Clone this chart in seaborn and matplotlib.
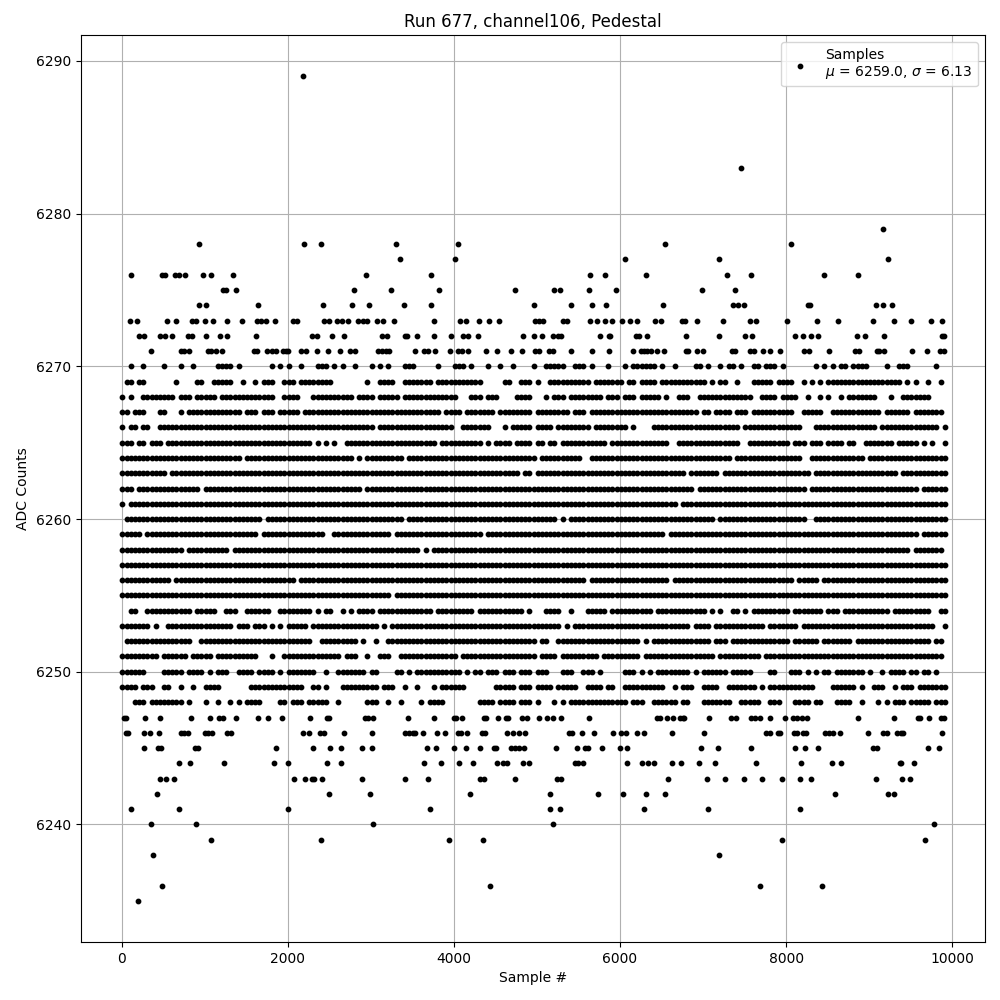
import matplotlib
matplotlib.use("Agg")
import matplotlib.pyplot as plt
import pandas as pd
import seaborn as sns

# Occupancy: each character is one 50-sample cell, '#' = a sample drawn
row_6270 = "..#..#.... #...#..#.. ...####.#. ......#.#. #..#...### .#.#..#... #.#.#...## #.....#... ###.#...#. .#..#....# ..#####..# ##.#...#.. .#.######. #..#....## .#..#.##.# ..##.###.# .......#.# .#.##.#### ....#..### ......#.."
row_6269 = ".##.##.... ...#....## ..#####..# ..#.###..# ##.####### #........# ..####..## #####.#### #######... ..##..###. #..####### ###.###### #.##.####. ########## #.#.##..#. ..#####.## ##..#.#.#. ########## ########.# .#..#..#."
row_6268 = "#.#..##### ###.###.## ###.###### #######..# ###...#### ######.### #.#####.## ########## #...###.## #....####. ..#.###.## ######.### .###.##### .#..###..# ########## ##..####.# ###..#..#. #..#.##### ##...#..## #####...."
row_6267 = "##.###...# #...#.#### #########. ###.###.## ###.###### ########## ########## #######.## ##.####### .########. ########.# ##.####### ########## #########. ##.####.## #.######## ##..#####. .######### ###.###### .#######."
row_6266 = "#.##.##..# ########## ########## ########## ########## ########## #.######## ########## ..#######. ..#.#####. ####.##### ###.###### ##.#....## ########## #########. ########## ####...### ########## ##.####### #######.#"
row_6265 = "###.##.### .######### ########## ########## ######.#.# .#..###### ########## ######.### #######.#. ####.####. ##.##.#### #######.## ########## ##..###### #########. .######### #.###.###. ####.##..# ######.### ##.#.#..#"
row_6264 = "########## ########## #########. ########## ########## ######.#.# ########.# ########## ########## ########## .######### #..####### ########## ########## #######.## ########## ####..#### #########. ########## #########"
row_6263 = "########## #.######## ########## ########## ########## ########## ########## ########## ########## ######.##. ########## ########## ########## ######.### ####.##### ########## ######.### ########## #######.## #########"
row_6262 = "###.###### #########. ########## ########## ########## ########.# ########## ########## ########## ########## ########## ########## ########## ########.# ########## ########## #####.#### ########## ########## ##.######"
row_6261 = "#.######## ########## ########## ########## ########## ########## ########## ########## ########## ########## ########## ########## ########## ####.##### ########## ########## ########## ########## ########## #########"
row_6260 = ".######### ########## ########## ####.##### ########## ########## ########.# ########## ########## ########## #####.#.## ########## ########## ########## ###.###### ########## #####..### ########## ########## #########"
row_6259 = "#####.#### ########## ########## ###.###### #########. .######### #####.#### ########## #######.## ########## ########## ########## ########## #.######## ########## ########## ########## ########## ########## ##.######"
row_6258 = "########## #####.#### ######.### ########## ########## ########## ########## ##.#.##### ########## ########## ########## ########## ########## ########## ########## ########## ########## ########## ########## .#######."
row_6257 = "########## ########## ########## ########## ########## ########## ########## ########## ########## ########## ########## ########## ########## ########## ########## ########## ########## ########## ########## #########"
row_6256 = "########## ##.####### ########## ########## ##.####### ########## ########## ########## ########## ########## ########## ##.####### ########## ##.####### ########## ########## ##.#####.# ########## ########## #########"
row_6255 = "########## ########## ########## ########## ########## ########## #####.#### ########## ########## ########## ########## ########## ########## ########## ########## ########## ########## ########## ########## #########"
row_6254 = "..##..#### #######.## ###..###.. ######..## ######.#.# #..#.#.### #.######## #####.#### #####.#### #######.#. ..####..#. ..#####.## ########.# ########## #.#.#..##. #.######## #.#######. ###.###### #####.#### #####..##"
row_6253 = "#######.#. .######### #######.## #.###.#.#. #####.#### ########## ##.#.##### ########## ########## ########## ######.#.# ########## ########## #######.## ##.####### #####.#### ###.###### ########## ########## ######..#"
row_6252 = ".######### #######..# ########## ########## ######..## #######.#. .#..###### ########## ########## ########## .##..##### ########## #####.#.## ########## ##.###.### ########## #.######.# ######.### ########## #####.##."
row_6251 = "#########. ######.### ##.####### ###...#..# ########## ###.###..# ..###..### ########## #.######## ########## .####.#### #####.#### #####.#### ########## ###.###### ####.##### ########## ########## ########## ########."
row_6250 = "######.... #####.#### .#.###..## ##.####.#. #######..# ..#######. ##....##.# .######### ##.#.##.## #.###.###. ###...###. .###.#.... .###.#.#.# #######.#. ######.### ##....##.. .###.#.#.# #.#######. #..#.####. ##.##.#.."
row_6249 = "####.###.. ##..#..#.. ####...... .######### ####..##.# ...####### ##.###..#. .#...#.### ###....... #####.###. ####.##### ..####.##. .######### #..#.###.. ####..#### ###.#.#### #######... .######.#. .###..#.## #.#######"
row_6248 = "...###.### #####.#... #..#..#.#. ####....## .###.##### ..#......# ##..#..#.. ..#.####.. ......#### .####.###. #...#.#.## ########## ##.###..## ####.##... #######..# ####..###. ..####.##. ..####..#. ..#.#.###. #####.###"

# Sample numbers for the sparse levels
samples_6289 = [2181]
samples_6283 = [7459]
samples_6279 = [9163]
samples_6278 = [932, 2197, 2402, 3306, 4053, 6548, 8054]
samples_6277 = [3354, 4017, 6066, 7187, 9223]
samples_6276 = [112, 490, 522, 643, 691, 763, 980, 1077, 1342, 2945, 3728, 5644, 5825, 6319, 7283, 7572, 8452, 8862]
samples_6275 = [1221, 1257, 1378, 2800, 3246, 3824, 4740, 5210, 5283, 5632, 5957, 6982, 7391]
samples_6274 = [932, 1020, 1643, 2426, 2776, 2981, 3402, 3728, 4969, 5415, 5668, 5837, 6524, 7355, 7420, 7488, 8259, 8287, 9079, 9163, 9271]
samples_6273 = [100, 185, 546, 655, 848, 896, 1004, 1101, 1269, 1450, 1631, 1679, 1739, 1848, 2065, 2113, 2438, 2499, 2595, 2655, 2728, 2848, 2908, 2957, 3077, 3149, 3282, 3764, 4077, 4150, 4306, 4427, 4547, 4981, 5029, 5078, 5319, 5367, 5644, 5728, 5825, 5909, 6030, 6122, 6210, 6427, 6500, 6741, 6789, 6933, 7235, 7560, 7632, 8006, 8368, 8621, 9042, 9296, 9500, 9741, 9874]
samples_6272 = [209, 269, 462, 522, 607, 799, 848, 1016, 1185, 1269, 1619, 2294, 2354, 2535, 2679, 3137, 3197, 3414, 3438, 3559, 3764, 3969, 4113, 4174, 4294, 4836, 4969, 5066, 5198, 5258, 5295, 5765, 5873, 5885, 6198, 6235, 6331, 6801, 7187, 7500, 7584, 8102, 8199, 8295, 8380, 8850, 8946, 9175, 9874, 9900]
samples_6271 = [354, 715, 751, 811, 1040, 1077, 1137, 1209, 1595, 1631, 1751, 1812, 1860, 1944, 1980, 2004, 2161, 2221, 2358, 2483, 2627, 2752, 2812, 3089, 3137, 3185, 3221, 3535, 3643, 3692, 3776, 3957, 4053, 4101, 4174, 4391, 4523, 4692, 4824, 4981, 5029, 5150, 5198, 5415, 5668, 5873, 6162, 6259, 6295, 6331, 6379, 6451, 6536, 6801, 6825, 6933, 6994, 7343, 7391, 7560, 7608, 7717, 7801, 7922, 8211, 8271, 8512, 8826, 8874, 9091, 9115, 9175, 9512, 9693, 9850, 9900]
samples_6247 = [28, 52, 281, 462, 836, 1065, 1173, 1221, 1378, 1643, 1763, 1932, 2270, 2475, 2499, 2932, 2969, 3029, 3451, 3764, 4005, 4029, 4101, 4367, 4391, 4535, 4632, 4656, 4824, 4885, 5029, 5126, 5198, 5295, 5632, 6451, 6487, 6572, 6644, 6717, 6753, 6777, 7078, 7331, 7403, 7572, 7620, 7681, 7801, 7982, 8078, 8127, 8187, 8247, 8862, 9296, 9585, 9609, 9717, 9862, 9898]
samples_6246 = [52, 76, 269, 341, 450, 715, 751, 799, 1004, 1040, 1089, 1269, 1318, 2185, 2258, 2390, 2438, 2679, 3017, 3414, 3463, 3511, 3535, 3631, 3800, 3897, 4053, 4089, 4162, 4342, 4379, 4644, 4716, 4788, 4861, 5391, 5427, 5548, 5692, 5921, 6018, 6078, 6210, 6295, 6632, 7006, 7753, 7801, 7898, 7922, 8090, 8127, 8199, 8235, 8464, 8512, 8560, 8645, 8982, 9163, 9211, 9332, 9380, 9404, 9874]
samples_6245 = [269, 438, 474, 884, 920, 1860, 2306, 2511, 2643, 2896, 3017, 3680, 3788, 4005, 4150, 4318, 4487, 4511, 4692, 4740, 4788, 4849, 5234, 5487, 5584, 5620, 5789, 6006, 6090, 6970, 7175, 7572, 8102, 8223, 8380, 9042, 9091, 9705, 9838]
samples_6244 = [691, 823, 1233, 1836, 2004, 2475, 2643, 3643, 3848, 4065, 4234, 4523, 4596, 4644, 4836, 4909, 5463, 5499, 5560, 6090, 6271, 6343, 6415, 6632, 6729, 6946, 7150, 7632, 8175, 8548, 8657, 9368, 9380, 9536]
samples_6243 = [462, 534, 631, 2077, 2209, 2294, 2318, 2414, 2896, 3414, 3692, 4318, 4367, 4740, 5246, 5295, 6584, 7042, 7259, 7488, 7705, 7946, 8163, 8295, 9079, 9392, 9488]
samples_6242 = [426, 2499, 2993, 4198, 5162, 5740, 6042, 6319, 6548, 8584, 9223, 9296]
samples_6241 = [112, 691, 2004, 3716, 5162, 5283, 6295, 7054, 8163]
samples_6240 = [354, 896, 3029, 5198, 9777]
samples_6239 = [1077, 2402, 3945, 4354, 7946, 9669]
samples_6238 = [374, 7190]
samples_6236 = [482, 4430, 7685, 8430]
samples_6235 = [193]

occupancy_rows = {
    6270: row_6270, 6269: row_6269, 6268: row_6268, 6267: row_6267, 6266: row_6266,
    6265: row_6265, 6264: row_6264, 6263: row_6263, 6262: row_6262, 6261: row_6261,
    6260: row_6260, 6259: row_6259, 6258: row_6258, 6257: row_6257, 6256: row_6256,
    6255: row_6255, 6254: row_6254, 6253: row_6253, 6252: row_6252, 6251: row_6251,
    6250: row_6250, 6249: row_6249, 6248: row_6248,
}
sparse_rows = {
    6289: samples_6289, 6283: samples_6283, 6279: samples_6279, 6278: samples_6278,
    6277: samples_6277, 6276: samples_6276, 6275: samples_6275, 6274: samples_6274,
    6273: samples_6273, 6272: samples_6272, 6271: samples_6271, 6247: samples_6247,
    6246: samples_6246, 6245: samples_6245, 6244: samples_6244, 6243: samples_6243,
    6242: samples_6242, 6241: samples_6241, 6240: samples_6240, 6239: samples_6239,
    6238: samples_6238, 6236: samples_6236, 6235: samples_6235,
}

records = []
for level, text in occupancy_rows.items():
    cells = text.replace(" ", "")
    records += [(50 * i + 10, level) for i, c in enumerate(cells) if c == "#"]
for level, xs in sparse_rows.items():
    records += [(x, level) for x in xs]
df = pd.DataFrame(records, columns=["sample", "adc"])

fig, ax = plt.subplots(figsize=(10, 10), dpi=100)
sns.scatterplot(
    data=df, x="sample", y="adc", ax=ax, marker=".", s=40, color="k",
    edgecolor="k", linewidth=1.0, zorder=3,
    label="Samples\n$\\mu$ = 6259.0, $\\sigma$ = 6.13",
)
ax.set_xlim(-495, 10395)
ax.set_ylim(6232.3, 6291.7)
ax.grid(True)
ax.set_title("Run 677, channel106, Pedestal")
ax.set_xlabel("Sample #")
ax.set_ylabel("ADC Counts")
ax.legend(loc="upper right")
fig.subplots_adjust(left=0.0805, right=0.985, top=0.965, bottom=0.058)
fig.savefig("out.png", dpi=100)
